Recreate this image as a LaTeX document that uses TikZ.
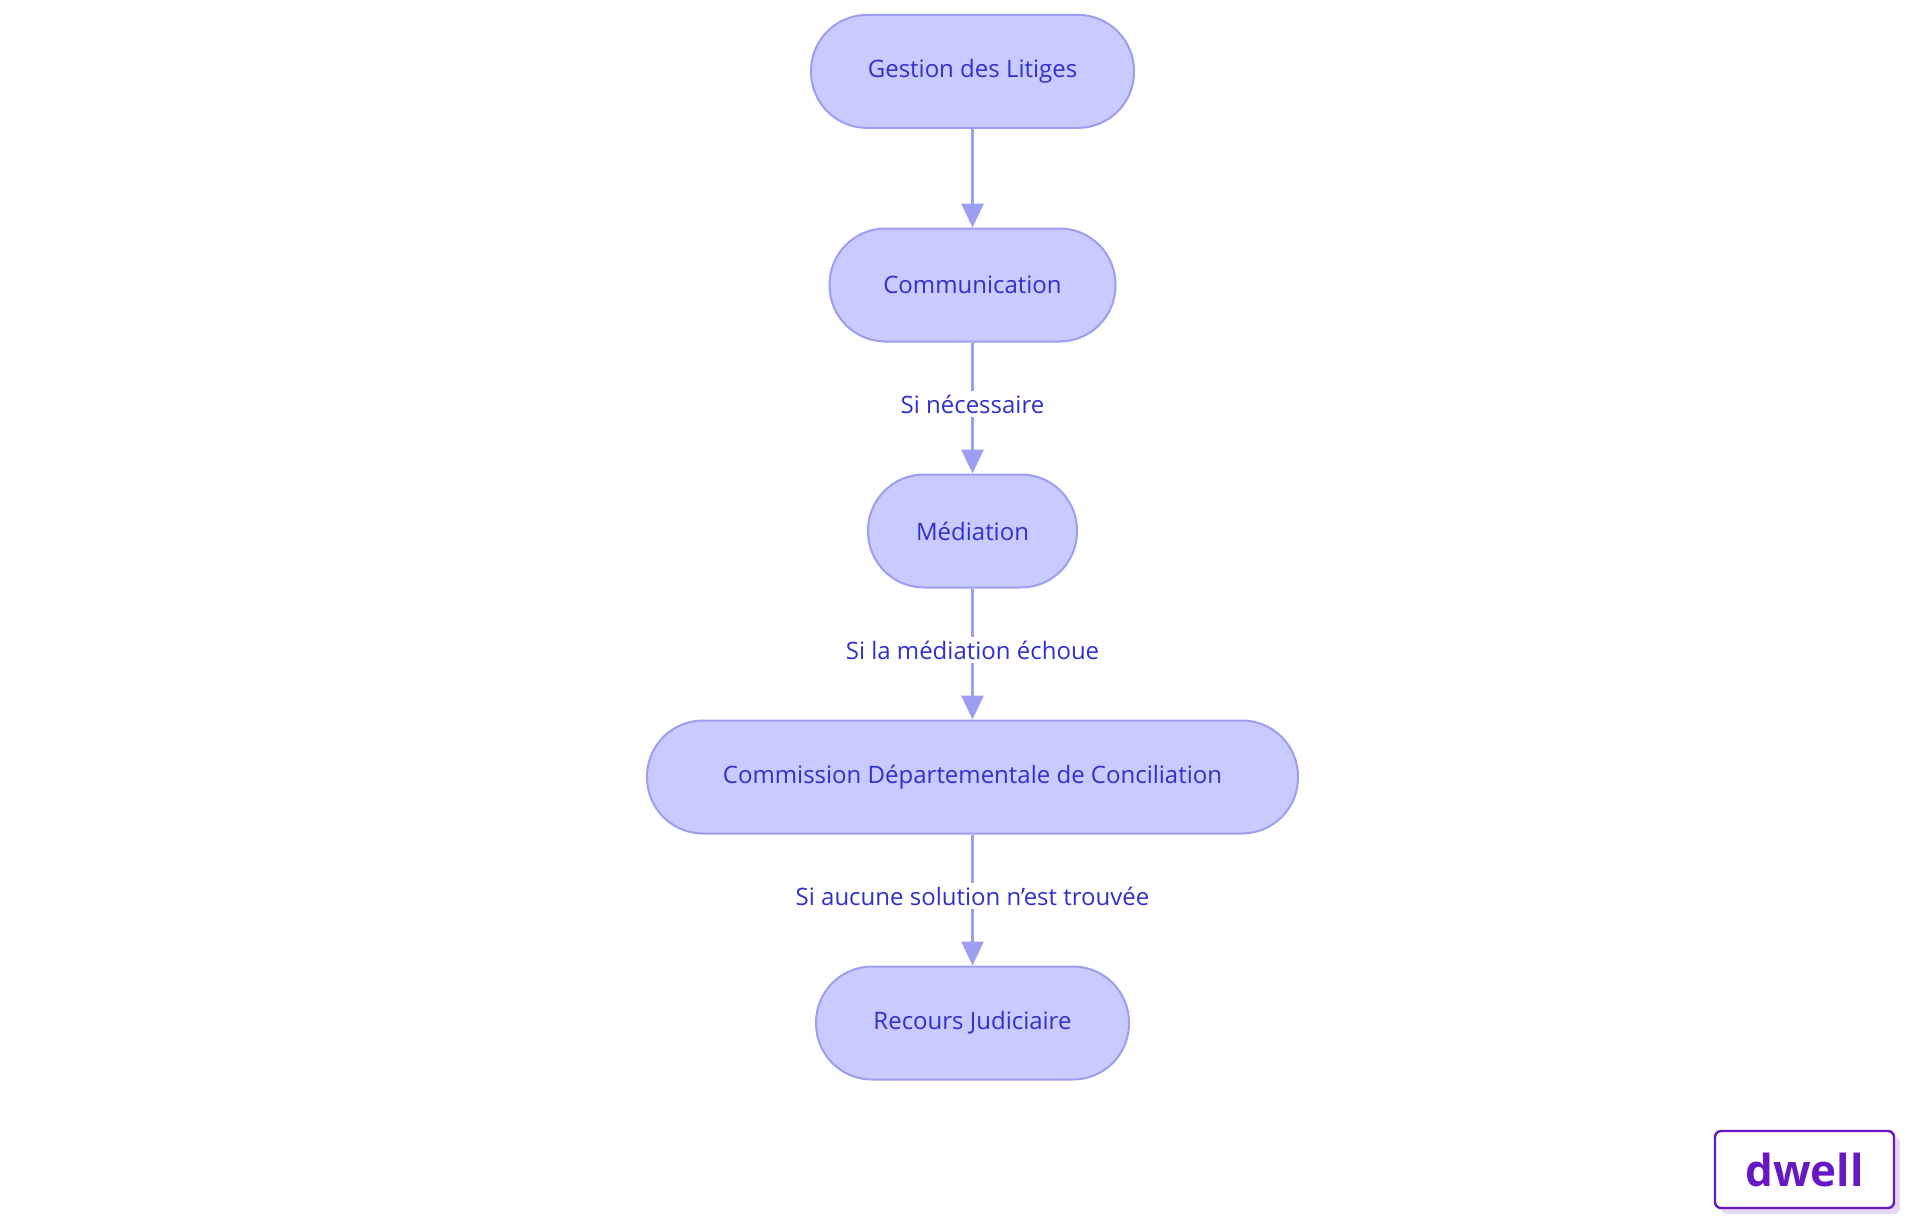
\documentclass[tikz,border=0pt]{standalone}
\usepackage{fontspec}
\setmainfont{Open Sans}
\usetikzlibrary{arrows.meta}
\definecolor{nfill}{HTML}{C9CAFF}
\definecolor{nline}{HTML}{9C9EF0}
\definecolor{ntext}{HTML}{3030CC}
\definecolor{logo}{HTML}{6618C4}
\definecolor{logosh}{HTML}{E6D9F6}
\begin{document}
\begin{tikzpicture}[x=0.5pt,y=-0.5pt,
 box/.style={draw=nline,line width=1pt,fill=nfill,rounded corners=28pt,minimum height=56.5pt,text=ntext,font=\fontsize{12}{14}\selectfont},
 lab/.style={fill=white,text=ntext,font=\fontsize{12}{14}\selectfont,inner sep=2pt},
 arr/.style={draw=nline,line width=1.6pt,-{Triangle[length=12pt,width=11pt]}}]
\useasboundingbox (0,0) rectangle (1920,1215);
\node[box,minimum width=161.5pt] (a) at (972.5,71.4) {Gestion des Litiges};
\node[box,minimum width=143pt] (b) at (972.5,285) {Communication};
\node[box,minimum width=104.5pt] (c) at (972.5,531) {Médiation};
\node[box,minimum width=325.5pt] (d) at (972.5,777) {Commission Départementale de Conciliation};
\node[box,minimum width=156.5pt] (e) at (972.5,1023) {Recours Judiciaire};
\draw[arr] (a) -- (b);
\draw[arr] (b) -- (c) node[lab,pos=0.47] {Si nécessaire};
\draw[arr] (c) -- (d) node[lab,pos=0.47] {Si la médiation échoue};
\draw[arr] (d) -- (e) node[lab,pos=0.47] {Si aucune solution n\symbol{"27}est trouvée};
\fill[logosh,rounded corners=3pt] (1721,1137) rectangle (1900,1214);
\node[draw=logo,line width=1.2pt,fill=white,rounded corners=3pt,minimum width=89.5pt,minimum height=38.5pt,text=logo,font=\fontsize{22}{24}\selectfont\bfseries] (logo) at (1804.5,1169.5) {dwell};
\end{tikzpicture}
\end{document}
